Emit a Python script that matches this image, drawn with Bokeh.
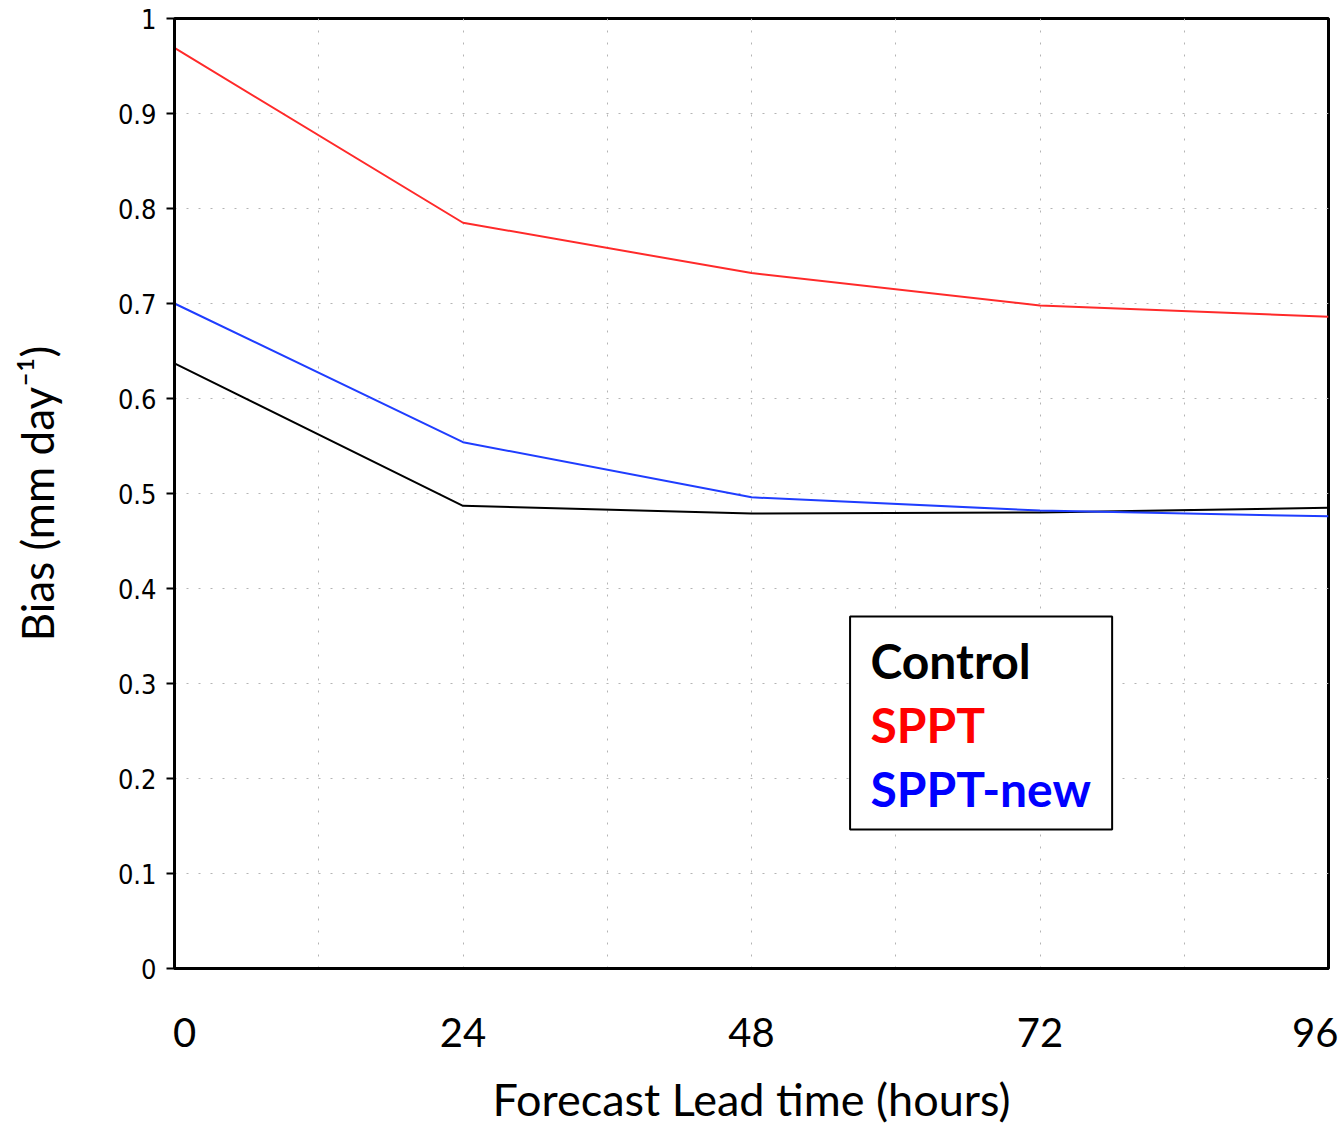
from bokeh.plotting import figure
from bokeh.models import Range1d, FixedTicker, BoxAnnotation, Label
from bokeh.embed import file_html
from bokeh.resources import INLINE

# ---- data ----
hours = [0, 24, 48, 72, 96]
control = [0.637, 0.487, 0.479, 0.480, 0.485]
sppt = [0.969, 0.785, 0.732, 0.698, 0.686]
sppt_new = [0.700, 0.554, 0.496, 0.482, 0.476]

series_names = ["Control", "SPPT", "SPPT-new"]
series_values = [control, sppt, sppt_new]
series_colors = ["#000000", "#ff2a2a", "#1f3dff"]
legend_colors = ["#000000", "#ff0000", "#0000ff"]

x_ticks = [0, 24, 48, 72, 96]
x_tick_labels = ["\u20020", "24", "48", "72", "96\u2009"]
x_grid_ticks = [12, 24, 36, 48, 60, 72, 84]
y_ticks = [0.0, 0.1, 0.2, 0.3, 0.4, 0.5, 0.6, 0.7, 0.8, 0.9, 1.0]
y_tick_labels = ["0", "0.1", "0.2", "0.3", "0.4", "0.5", "0.6", "0.7", "0.8", "0.9", "1"]

# legend box placement (data units of the fixed ranges)
legend_box = dict(left=56.2, right=78.0, top=0.3705, bottom=0.1463)
legend_text_x = 57.9
legend_text_y = [0.324, 0.257, 0.190]

p = figure(width=1343, height=1128, output_backend="svg", toolbar_location=None,
           x_range=Range1d(0, 96), y_range=Range1d(0, 1),
           min_border_left=174, min_border_right=15, min_border_top=18, min_border_bottom=160)
p.background_fill_color = "white"
p.border_fill_color = "white"
p.outline_line_color = "black"
p.outline_line_width = 3

for vals, col in zip(series_values, series_colors):
    p.line(hours, vals, line_color=col, line_width=2)

# grids
p.xgrid.ticker = FixedTicker(ticks=x_grid_ticks)
p.ygrid.ticker = FixedTicker(ticks=y_ticks)
for g in (p.xgrid, p.ygrid):
    g.grid_line_color = "#b4b4b4"
    g.grid_line_dash = "2 10"
    g.grid_line_width = 1

# x axis
xa = p.xaxis[0]
xa.ticker = FixedTicker(ticks=x_ticks)
xa.major_label_overrides = dict(zip(x_ticks, x_tick_labels))
xa.major_tick_out = 0
xa.major_tick_in = 0
xa.minor_tick_out = 0
xa.minor_tick_in = 0
xa.axis_line_color = "black"
xa.axis_line_width = 3
xa.major_label_text_font = "Lato"
xa.major_label_text_font_size = "40px"
xa.major_label_text_color = "black"
xa.major_label_standoff = 39
xa.axis_label = "Forecast Lead time (hours)"
xa.axis_label_text_font = "Lato"
xa.axis_label_text_font_size = "45px"
xa.axis_label_text_font_style = "normal"
xa.axis_label_text_color = "black"
xa.axis_label_standoff = 13

# y axis
ya = p.yaxis[0]
ya.ticker = FixedTicker(ticks=y_ticks)
ya.major_label_overrides = dict(zip(y_ticks, y_tick_labels))
ya.major_tick_out = 8
ya.major_tick_in = 0
ya.major_tick_line_width = 2
ya.major_tick_line_color = "black"
ya.minor_tick_out = 0
ya.minor_tick_in = 0
ya.axis_line_color = "black"
ya.axis_line_width = 3
ya.major_label_text_font = "DejaVu Sans Condensed"
ya.major_label_text_font_size = "27px"
ya.major_label_text_color = "black"
ya.major_label_standoff = 10
ya.axis_label = "Bias (mm day\u207b\u00b9)"
ya.axis_label_text_font = "Lato"
ya.axis_label_text_font_size = "44px"
ya.axis_label_text_font_style = "normal"
ya.axis_label_text_color = "black"
ya.axis_label_standoff = 52

# legend box with coloured entries
box = BoxAnnotation(left=legend_box["left"], right=legend_box["right"],
                    top=legend_box["top"], bottom=legend_box["bottom"],
                    fill_color="white", fill_alpha=1.0,
                    line_color="black", line_width=2, line_alpha=1.0)
p.add_layout(box)
for name, col, ty in zip(series_names, legend_colors, legend_text_y):
    p.add_layout(Label(x=legend_text_x, y=ty, text=name, text_color=col,
                       text_font="Lato", text_font_style="bold", text_font_size="48px",
                       text_baseline="alphabetic", text_align="left"))

open("out.html", "w").write(file_html(p, INLINE))
